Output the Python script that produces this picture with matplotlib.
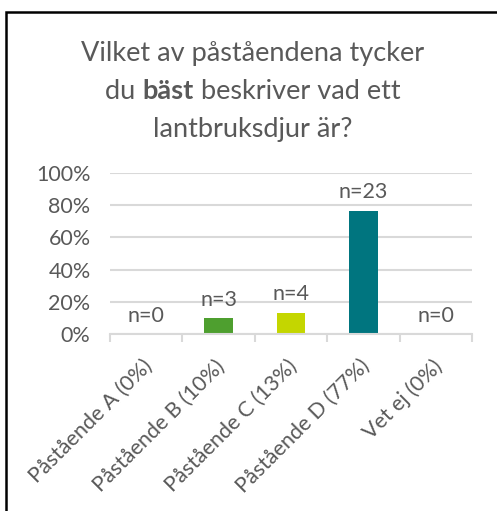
import matplotlib
matplotlib.use("Agg")
import matplotlib.pyplot as plt
from matplotlib.patches import Rectangle
from matplotlib.transforms import ScaledTranslation

categories = ["Påstående A (0%)", "Påstående B (10%)", "Påstående C (13%)",
              "Påstående D (77%)", "Vet ej (0%)"]
counts = [0, 3, 4, 23, 0]
shares = [0.0, 0.10, 0.1333, 0.7667, 0.0]
colors = ["#4E9F2F", "#4E9F2F", "#C4D600", "#00757F", "#4E9F2F"]
yticks = [0, 0.2, 0.4, 0.6, 0.8, 1.0]
ytick_labels = ["0%", "20%", "40%", "60%", "80%", "100%"]

TXT = "#595959"
GRID = "#D9D9D9"
FONT = "Lato"
plt.rcParams['font.family'] = [FONT, 'DejaVu Sans']
LS = 15.5

W, H = 497, 511
fig = plt.figure(figsize=(W / 100, H / 100), dpi=100)
fig.patch.set_facecolor("white")

# outer frame
fig.patches.append(Rectangle((6 / W, -0.1), 1.2, 1 - 12 / H + 0.1,
                             transform=fig.transFigure, fill=False,
                             edgecolor="black", linewidth=1.8))

ax = fig.add_axes([110 / W, 1 - 334 / H, (472 - 110) / W, (334 - 173) / H])
x = list(range(len(categories)))
ax.bar(x, shares, width=0.4, color=colors, zorder=3)
ax.set_xlim(-0.5, len(categories) - 0.5)
ax.set_ylim(0, 1)
ax.set_yticks(yticks)
ax.set_yticklabels(ytick_labels)
ax.tick_params(axis='y', length=0, pad=14, labelsize=LS, labelcolor=TXT)
ax.grid(axis='y', color=GRID, linewidth=1.5, zorder=0)
for s in ["top", "right", "left"]:
    ax.spines[s].set_visible(False)
ax.spines["bottom"].set_color(GRID)
ax.spines["bottom"].set_linewidth(1.5)
ax.spines["bottom"].set_zorder(4)

# category boundary ticks
ax.set_xticks([i - 0.5 for i in range(len(categories) + 1)])
ax.set_xticklabels([])
ax.tick_params(axis='x', which='major', length=6, width=1.5, color=GRID, direction='out')

# category labels
off = ScaledTranslation(-4 / 100, -22 / 100, fig.dpi_scale_trans)
for xi, lab in zip(x, categories):
    ax.text(xi, 0, lab, transform=ax.get_xaxis_transform() + off,
            rotation=45, ha='right', va='top', rotation_mode='anchor',
            fontsize=LS, color=TXT)

for xi, v, n in zip(x, shares, counts):
    ax.annotate(f"n={n}", (xi, v), xytext=(0, 6), textcoords='offset points',
                ha='center', va='bottom', fontsize=LS, color=TXT)

# title with bold word
fs = 19.5
cx = 253 / W
lines_y = [1 - 53 / H, 1 - 91 / H, 1 - 129 / H]
fig.text(cx, lines_y[0], "Vilket av påståendena tycker", ha='center', va='center',
         fontsize=fs, color=TXT)
fig.text(cx, lines_y[2], "lantbruksdjur är?", ha='center', va='center',
         fontsize=fs, color=TXT)
parts = [("du ", "normal"), ("bäst", "bold"), (" beskriver vad ett", "normal")]
fig.canvas.draw()
r = fig.canvas.get_renderer()
tmp = []
widths = []
for s, w in parts:
    t = fig.text(0, lines_y[1], s, ha='left', va='center', fontsize=fs,
                 color=TXT, fontweight=w)
    tmp.append(t)
    widths.append(t.get_window_extent(r).width)
total = sum(widths)
start = cx * W - total / 2
pos = start
for t, wd in zip(tmp, widths):
    t.set_x(pos / W)
    pos += wd

fig.savefig("out.png", dpi=100, facecolor="white")
